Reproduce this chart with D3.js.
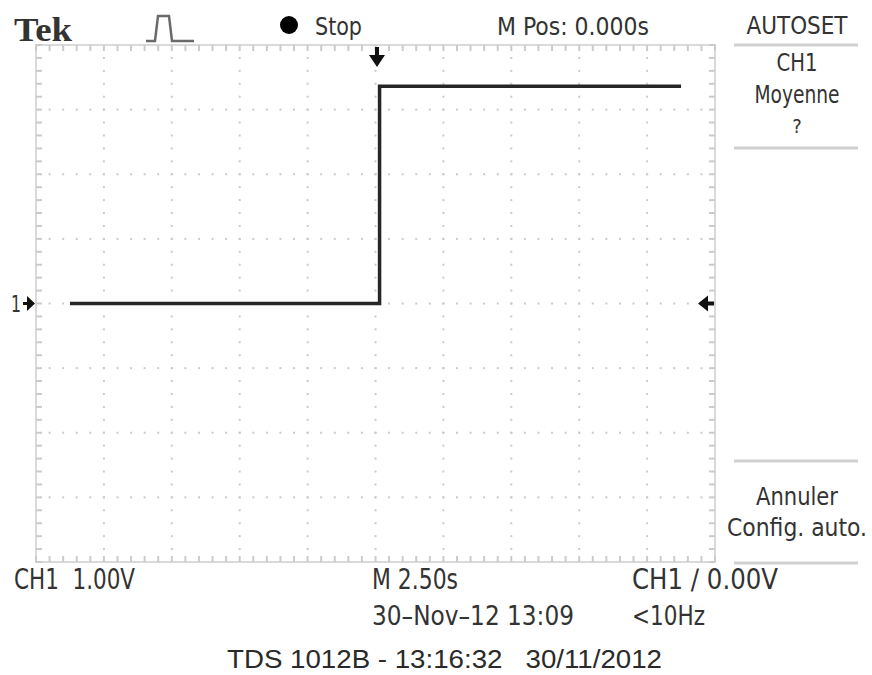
<!DOCTYPE html>
<html>
<head>
<meta charset="utf-8">
<script src="https://cdn.jsdelivr.net/npm/d3@7"></script>
<style>
  body { margin: 0; background: #fff; }
  svg { display: block; }
  text { white-space: pre; }
  .lcd { font-family: "Liberation Sans Narrow", "DejaVu Sans Condensed", "Liberation Sans", sans-serif; fill: #333; }
</style>
</head>
<body>
<svg id="scope" width="872" height="675"></svg>
<script>
// trace data (s, V)
var traceTime = [-11.25, 0.15, 0.15, 11.25];
var traceVolt = [0, 0, 3.36, 3.36];

// screen setup
var timeDomain = [-12.5, 12.5]; // 2.5 s/div, 10 div
var voltDomain = [-4, 4];       // 1 V/div, 8 div
var timeMajor = d3.range(-12.5, 12.51, 2.5);
var voltMajor = d3.range(-4, 4.01, 1);
var triggerTime = 0;
var triggerLevel = 0;

// readouts
var topLabels = ["Stop", "M Pos: 0.000s"];
var menuTop = ["AUTOSET", "CH1", "Moyenne", "?"];
var menuBottom = ["Annuler", "Config. auto."];
var bottomLine1 = ["CH1  1.00V", "M 2.50s", "CH1 \u2215 0.00V"];
var bottomLine2 = ["30\u2013Nov\u201312 13:09", "<10Hz"];
var footer = "TDS 1012B - 13:16:32   30/11/2012";

var svg = d3.select("#scope");
var gLeft = 36, gRight = 715, gTop = 45, gBottom = 562;

var x = d3.scaleLinear().domain(timeDomain).range([gLeft, gRight]);
var y = d3.scaleLinear().domain(voltDomain).range([gBottom, gTop]);

var grid = svg.append("g");
var gridColor = "#cbcbcb";

// dotted graticule: dots every 1/5 div along each major line
var timeMinor = d3.range(timeDomain[0], timeDomain[1] + 0.01, 0.5);
var voltMinor = d3.range(voltDomain[0], voltDomain[1] + 0.01, 0.2);
voltMajor.slice(1, -1).forEach(function(v) {
	grid.selectAll(null).data(timeMinor).enter().append("rect")
		.attr("x", function(t) { return x(t) - 1; })
		.attr("y", y(v) - 1)
		.attr("width", 2).attr("height", 2)
		.attr("fill", gridColor);
});
timeMajor.slice(1, -1).forEach(function(t) {
	grid.selectAll(null).data(voltMinor).enter().append("rect")
		.attr("x", x(t) - 1)
		.attr("y", function(v) { return y(v) - 1; })
		.attr("width", 2).attr("height", 2)
		.attr("fill", gridColor);
});

// frame
grid.append("rect")
	.attr("x", gLeft).attr("y", gTop)
	.attr("width", gRight - gLeft).attr("height", gBottom - gTop)
	.attr("fill", "none").attr("stroke", "#dadada").attr("stroke-width", 2);

// edge ticks
grid.selectAll(".tt").data(timeMinor).enter().append("line")
	.attr("x1", function(t) { return x(t); }).attr("x2", function(t) { return x(t); })
	.attr("y1", gTop).attr("y2", gTop + 6)
	.attr("stroke", gridColor).attr("stroke-width", 2);
grid.selectAll(".tb").data(timeMinor).enter().append("line")
	.attr("x1", function(t) { return x(t); }).attr("x2", function(t) { return x(t); })
	.attr("y1", gBottom).attr("y2", gBottom - 6)
	.attr("stroke", gridColor).attr("stroke-width", 2);
grid.selectAll(".vl").data(voltMinor).enter().append("line")
	.attr("x1", gLeft).attr("x2", gLeft + 6)
	.attr("y1", function(v) { return y(v); }).attr("y2", function(v) { return y(v); })
	.attr("stroke", gridColor).attr("stroke-width", 2);
grid.selectAll(".vr").data(voltMinor).enter().append("line")
	.attr("x1", gRight).attr("x2", gRight - 6)
	.attr("y1", function(v) { return y(v); }).attr("y2", function(v) { return y(v); })
	.attr("stroke", gridColor).attr("stroke-width", 2);

// trace
var pts = traceTime.map(function(t, i) { return [t, traceVolt[i]]; });
var line = d3.line()
	.x(function(d) { return x(d[0]); })
	.y(function(d) { return y(d[1]); });
svg.append("path")
	.datum(pts)
	.attr("d", line)
	.attr("fill", "none")
	.attr("stroke", "#262626")
	.attr("stroke-width", 3.5);

// markers
var tx = x(triggerTime) + 1.5;
svg.append("path")
	.attr("d", "M" + (tx - 2) + "," + (gTop + 2) + "h4v8h6l-8,12l-8,-12h6z")
	.attr("fill", "#111");
var gy = y(0);
svg.append("text").attr("class", "lcd")
	.attr("x", 11).attr("y", gy + 8)
	.attr("font-size", 23).attr("fill", "#222")
	.attr("textLength", 10).attr("lengthAdjust", "spacingAndGlyphs")
	.text("1");
svg.append("path")
	.attr("d", "M23," + (gy - 1.5) + "h4v-6l8,7.5l-8,7.5v-6h-4z")
	.attr("fill", "#111");
var ly = y(triggerLevel);
svg.append("path")
	.attr("d", "M698," + ly + "l10,-8v6h6v4h-6v6z")
	.attr("fill", "#111");

// top bar
svg.append("text")
	.attr("x", 14).attr("y", 41)
	.attr("font-family", "'Liberation Serif', 'DejaVu Serif', serif")
	.attr("font-weight", "bold").attr("font-size", 34).attr("fill", "#333")
	.attr("textLength", 58).attr("lengthAdjust", "spacingAndGlyphs")
	.text("Tek");
svg.append("path")
	.attr("d", "M146,41h9l3,-25h11l3,25h22")
	.attr("fill", "none").attr("stroke", "#6a6a6a").attr("stroke-width", 2.5);
svg.append("circle").attr("cx", 289).attr("cy", 25).attr("r", 9).attr("fill", "#000");

function lcdText(txt, xPos, yPos, size, width, anchor) {
	var t = svg.append("text").attr("class", "lcd")
		.attr("x", xPos).attr("y", yPos)
		.attr("font-size", size)
		.attr("text-anchor", anchor || "start")
		.text(txt);
	if (width) t.attr("textLength", width).attr("lengthAdjust", "spacingAndGlyphs");
	return t;
}

lcdText(topLabels[0], 315, 35, 25, 47);
lcdText(topLabels[1], 497, 35, 25, 152);

// side menu
lcdText(menuTop[0], 797, 34, 25, 101, "middle");
lcdText(menuTop[1], 797, 71, 25, 41, "middle");
lcdText(menuTop[2], 797, 103, 25, 85, "middle");
lcdText(menuTop[3], 797, 133, 20, null, "middle");
lcdText(menuBottom[0], 797, 505, 25, 82, "middle");
lcdText(menuBottom[1], 797, 536, 25, 140, "middle");
[45, 148, 461, 563].forEach(function(yy) {
	svg.append("line").attr("x1", 734).attr("x2", 858)
		.attr("y1", yy).attr("y2", yy)
		.attr("stroke", "#d0d0d0").attr("stroke-width", 3);
});

// bottom readouts
lcdText(bottomLine1[0], 14, 589, 28, 121);
lcdText(bottomLine1[1], 372, 589, 28, 86);
lcdText(bottomLine1[2], 632, 589, 28, 146);
lcdText(bottomLine2[0], 372, 625, 27, 202);
lcdText(bottomLine2[1], 632, 625, 27, 73);

svg.append("text")
	.attr("x", 227).attr("y", 668)
	.attr("font-family", "'Liberation Sans', Arial, sans-serif")
	.attr("font-size", 25).attr("fill", "#2a2a2a")
	.attr("textLength", 435).attr("lengthAdjust", "spacingAndGlyphs")
	.text(footer);
</script>
</body>
</html>
